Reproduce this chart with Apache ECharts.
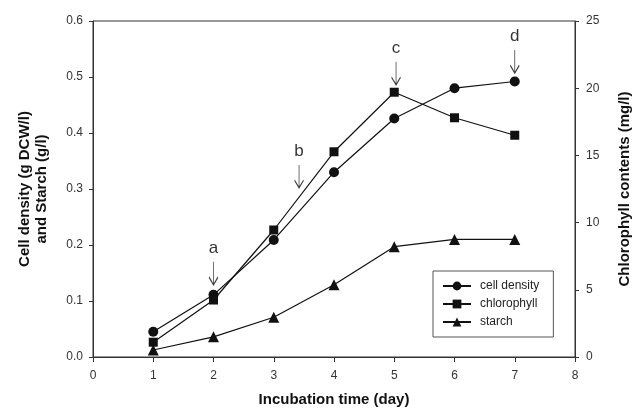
<!DOCTYPE html>
<html>
<head>
<meta charset="utf-8">
<script src="https://cdn.jsdelivr.net/npm/echarts@6/dist/echarts.min.js"></script>
<style>
  html, body { margin: 0; padding: 0; background: #fff; }
  #chart { width: 634px; height: 419px; }
</style>
</head>
<body>
<div id="chart"></div>
<script>
// days of incubation
const days = [1, 2, 3, 4, 5, 6, 7];
// g DCW/l
const cellDensity = [0.045, 0.111, 0.209, 0.330, 0.426, 0.480, 0.492];
// mg/l (right axis)
const chlorophyll = [1.1, 4.24, 9.45, 15.27, 19.7, 17.8, 16.5];
// g/l
const starch = [0.0125, 0.036, 0.071, 0.129, 0.197, 0.210, 0.210];
// arrow annotations: label, day, left-axis value at arrow tip
const markLabels = ['a', 'b', 'c', 'd'];
const markDays = [2, 3.42, 5.03, 7.0];
const markValues = [0.129, 0.302, 0.486, 0.507];

const font = 'Liberation Sans, Arial, sans-serif';
const ink = '#111';

function pairs(xs, ys) {
    return xs.map(function (x, i) { return [x, ys[i]]; });
}

const lineStyleCommon = { color: ink, width: 1.2 };

const option = {
    animation: false,
    backgroundColor: '#fff',
    textStyle: { fontFamily: font },
    grid: {
        left: 93, right: 59, top: 21, bottom: 62,
        outerBoundsMode: 'none',
        show: true, borderColor: '#333', borderWidth: 1
    },
    legend: {
        left: 433, top: 271,
        orient: 'vertical',
        data: ['cell density', 'chlorophyll', 'starch'],
        itemWidth: 28, itemHeight: 11, itemGap: 6,
        padding: [9, 14, 9, 9],
        borderColor: '#555', borderWidth: 1,
        textStyle: { fontFamily: font, fontSize: 12, color: '#222', padding: [0, 0, 0, 4] }
    },
    xAxis: {
        type: 'value', min: 0, max: 8, interval: 1,
        name: 'Incubation time (day)', nameLocation: 'middle', nameGap: 35,
        nameTextStyle: { fontFamily: font, fontSize: 15, fontWeight: 'bold', color: ink },
        axisLine: { lineStyle: { color: '#333' } },
        axisTick: { inside: false, length: 5, lineStyle: { color: '#333' } },
        axisLabel: { fontFamily: font, fontSize: 12, color: '#333', margin: 13 },
        splitLine: { show: false }
    },
    yAxis: [
        {
            type: 'value', min: 0, max: 0.6, interval: 0.1,
            name: 'Cell density (g DCW/l)\nand Starch (g/l)',
            nameLocation: 'middle', nameGap: 43, nameRotate: 90,
            nameTextStyle: { fontFamily: font, fontSize: 15, fontWeight: 'bold', color: ink, lineHeight: 17 },
            axisLine: { show: true, lineStyle: { color: '#333' } },
            axisTick: { inside: false, length: 4, lineStyle: { color: '#333' } },
            axisLabel: {
                fontFamily: font, fontSize: 12, color: '#333', margin: 10,
                formatter: function (v) { return v.toFixed(1); }
            },
            splitLine: { show: false }
        },
        {
            type: 'value', min: 0, max: 25, interval: 5, position: 'right',
            name: 'Chlorophyll contents (mg/l)',
            nameLocation: 'middle', nameGap: 42, nameRotate: 90,
            nameTextStyle: { fontFamily: font, fontSize: 15, fontWeight: 'bold', color: ink },
            axisLine: { show: true, lineStyle: { color: '#333' } },
            axisTick: { inside: false, length: 4, lineStyle: { color: '#333' } },
            axisLabel: { fontFamily: font, fontSize: 12, color: '#333', margin: 11 },
            splitLine: { show: false }
        }
    ],
    series: [
        {
            name: 'cell density', type: 'line', yAxisIndex: 0,
            data: pairs(days, cellDensity),
            symbol: 'circle', symbolSize: 10,
            lineStyle: lineStyleCommon, itemStyle: { color: ink }
        },
        {
            name: 'chlorophyll', type: 'line', yAxisIndex: 1,
            data: pairs(days, chlorophyll),
            symbol: 'rect', symbolSize: 9,
            lineStyle: lineStyleCommon, itemStyle: { color: ink }
        },
        {
            name: 'starch', type: 'line', yAxisIndex: 0,
            data: pairs(days, starch),
            symbol: 'triangle', symbolSize: 11,
            lineStyle: lineStyleCommon, itemStyle: { color: ink }
        },
        {
            name: 'marks', type: 'scatter', yAxisIndex: 0,
            data: markDays.map(function (d, i) {
                return { value: [d, markValues[i]], name: markLabels[i] };
            }),
            symbol: 'path://M5,0 L5,24 M1,16 L5,24 L9,16',
            symbolSize: [9, 23],
            symbolOffset: [0, '-50%'],
            itemStyle: { color: 'none', borderColor: ink, borderWidth: 1.2 },
            label: {
                show: true, position: 'top', distance: 1,
                formatter: function (p) { return p.name; },
                fontFamily: font, fontSize: 17, color: '#000'
            },
            silent: true
        }
    ]
};

const chart = echarts.init(document.getElementById('chart'));
chart.setOption(option);
window.addEventListener('resize', function () {
    chart.resize();
});
</script>
</body>
</html>
